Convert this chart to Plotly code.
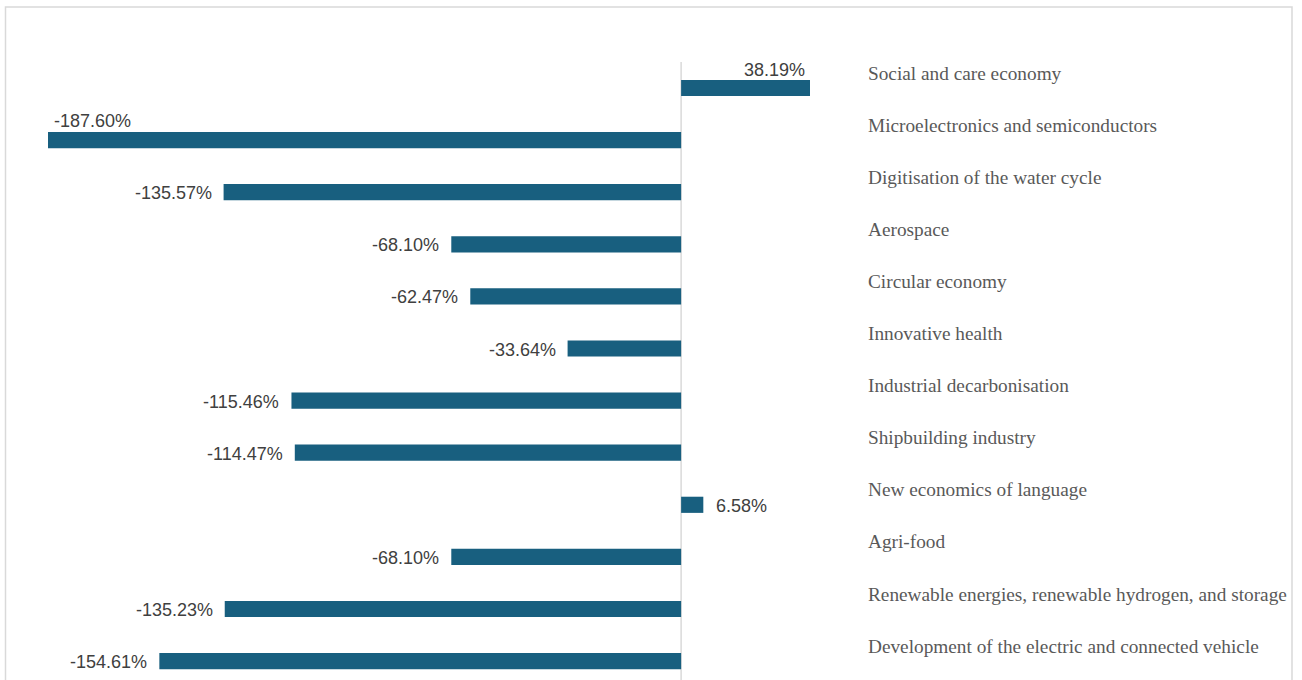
import plotly.graph_objects as go

categories = [
    "Social and care economy",
    "Microelectronics and semiconductors",
    "Digitisation of the water cycle",
    "Aerospace",
    "Circular economy",
    "Innovative health",
    "Industrial decarbonisation",
    "Shipbuilding industry",
    "New economics of language",
    "Agri-food",
    "Renewable energies, renewable hydrogen, and storage",
    "Development of the electric and connected vehicle",
]
values = [38.19, -187.60, -135.57, -68.10, -62.47, -33.64, -115.46, -114.47, 6.58, -68.10, -135.23, -154.61]
value_labels = [f"{v:.2f}%" for v in values]

W, H = 1302, 680
BAR = "#185f7f"

fig = go.Figure()
fig.add_trace(go.Bar(
    x=values, y=categories, orientation="h",
    marker=dict(color=BAR, line=dict(width=0)),
    width=0.31, hoverinfo="skip",
))

x_left, x_right = 48, 810
row0, step = 88, 52.1

annotations = []
for i, (c, v, lab) in enumerate(zip(categories, values, value_labels)):
    annotations.append(dict(
        x=866 / W, xref="paper", y=c, yref="y", yshift=15,
        text=c, showarrow=False, xanchor="left", yanchor="middle",
        font=dict(family="Liberation Serif", size=19.3, color="#595959"),
    ))
    vf = dict(family="Liberation Sans", size=18, color="#404040")
    if i == 0:
        annotations.append(dict(x=v, y=c, yshift=18, xshift=-3, text=lab, showarrow=False,
                                xanchor="right", yanchor="middle", font=vf))
    elif v == min(values):
        annotations.append(dict(x=v, y=c, yshift=19, xshift=4, text=lab, showarrow=False,
                                xanchor="left", yanchor="middle", font=vf))
    elif v > 0:
        annotations.append(dict(x=v, y=c, yshift=-1, xshift=11, text=lab, showarrow=False,
                                xanchor="left", yanchor="middle", font=vf))
    else:
        annotations.append(dict(x=v, y=c, yshift=-1, xshift=-10, text=lab, showarrow=False,
                                xanchor="right", yanchor="middle", font=vf))

y_top = -row0 / step
y_bot = (H - row0) / step

fig.update_layout(
    width=W, height=H,
    margin=dict(l=0, r=0, t=0, b=0),
    paper_bgcolor="white", plot_bgcolor="white",
    showlegend=False,
    xaxis=dict(domain=[x_left / W, x_right / W], range=[min(values), max(values)],
               showgrid=False, zeroline=False, showticklabels=False, fixedrange=True),
    yaxis=dict(type="category", categoryorder="array", categoryarray=categories,
               range=[y_bot, y_top], showgrid=False, zeroline=False,
               showticklabels=False, fixedrange=True),
    annotations=annotations,
    shapes=[
        dict(type="line", xref="x", yref="y", x0=0, x1=0, y0=-0.5, y1=y_bot + 1,
             line=dict(color="#d9d9d9", width=1.5), layer="below"),
        dict(type="rect", xref="paper", yref="paper", x0=5.5 / W, x1=1292 / W,
             y0=-0.1, y1=1 - 7 / H, line=dict(color="#d9d9d9", width=1.5),
             fillcolor="rgba(0,0,0,0)", layer="below"),
    ],
)

fig.write_html("out.html")
